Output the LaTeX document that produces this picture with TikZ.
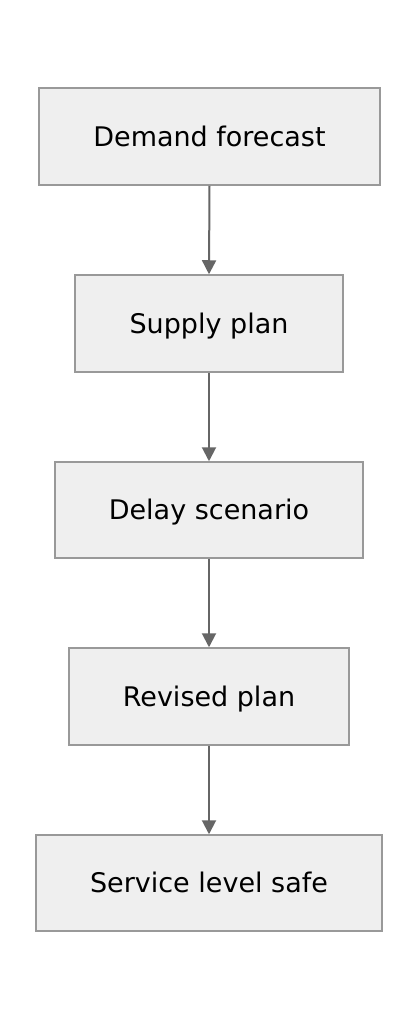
\documentclass[tikz,border=0pt]{standalone}
\usepackage{fontspec}
\setmainfont{DejaVu Sans}
\usetikzlibrary{arrows.meta}
\definecolor{boxfill}{HTML}{EFEFEF}
\definecolor{boxline}{HTML}{999999}
\definecolor{arrowc}{HTML}{666666}
\begin{document}
\begin{tikzpicture}[x=1pt,y=-1pt,
  stepbox/.style={draw=boxline,fill=boxfill,line width=1.5pt,inner sep=0pt,
    font=\fontsize{27}{32}\selectfont,text=black,text height=19.7pt,text depth=0pt},
  conn/.style={draw=arrowc,line width=2pt,-{Triangle[length=14pt,width=14pt]}}]
\useasboundingbox (0,0) rectangle (418,1020);
\fill[white] (0,0) rectangle (418,1020);
\node[stepbox,minimum width=341pt,minimum height=97pt] (a) at (209.5,136.5) {Demand forecast};
\node[stepbox,minimum width=268pt,minimum height=97pt] (b) at (209,323.5) {Supply plan};
\node[stepbox,minimum width=308pt,minimum height=96pt] (c) at (209,510) {Delay scenario};
\node[stepbox,minimum width=280pt,minimum height=97pt] (d) at (209,696.5) {Revised plan};
\node[stepbox,minimum width=346pt,minimum height=96pt] (e) at (209,883) {Service level safe};
\draw[conn] (a.south) -- (b.north);
\draw[conn] (b.south) -- (c.north);
\draw[conn] (c.south) -- (d.north);
\draw[conn] (d.south) -- (e.north);
\end{tikzpicture}
\end{document}
